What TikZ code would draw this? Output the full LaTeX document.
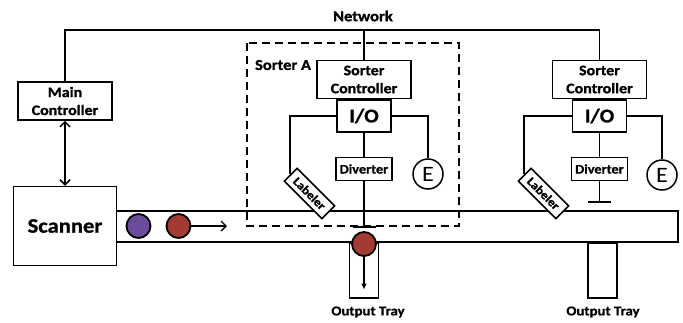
\documentclass[tikz,border=0pt]{standalone}
\usepackage{fontspec}
\setmainfont{Carlito}[FakeStretch=1.1, BoldFeatures={FakeBold=1}]
\usetikzlibrary{positioning, arrows.meta, calc}
\definecolor{ballpurple}{RGB}{107,76,154}
\definecolor{ballred}{RGB}{164,58,52}

\begin{document}
\begin{tikzpicture}[
    x=1pt, y=-1pt,
    line width=1.5pt,
    box/.style={draw, rectangle, inner sep=0pt, align=center, font=\bfseries\fontsize{14.5}{18}\selectfont},
    ctl/.style={box, minimum width=94pt, minimum height=38pt},
    iob/.style={box, minimum width=54pt, minimum height=32pt, font=\bfseries\fontsize{19.5}{22}\selectfont},
    dvt/.style={box, minimum width=56pt, minimum height=23pt, font=\bfseries\fontsize{13}{15}\selectfont},
    lab/.style={box, fill=white, rotate=-45, minimum width=53pt, minimum height=18pt, font=\bfseries\fontsize{12}{14}\selectfont},
    enc/.style={draw, circle, minimum size=30pt, inner sep=0pt, font=\fontsize{22}{24}\selectfont},
    tray/.style={draw, rectangle, minimum width=29pt, minimum height=55pt, anchor=north},
    ball/.style={draw, circle, minimum size=24pt, inner sep=0pt, line width=1.8pt},
    arrow/.style={-{Straight Barb[length=5pt, width=10pt]}, line width=1.3pt},
    dblarrow/.style={{Straight Barb[length=5pt, width=10pt]}-{Straight Barb[length=5pt, width=10pt]}, line width=1.5pt},
    lbl/.style={font=\bfseries\fontsize{15}{17}\selectfont}
]
\useasboundingbox (0,0) rectangle (683,322);

% conveyor
\node[box, minimum width=103pt, minimum height=79pt, font=\bfseries\fontsize{20.5}{24}\selectfont] (scan) at (65,226) {Scanner};
\coordinate (cv_tr) at (678,211);
\coordinate (cv_br) at (678,242);
\draw (scan.east |- cv_tr) -- (cv_tr) -- (cv_br) -- (scan.east |- cv_br);

\node[ctl] (main_c) at (65,101) {Main\\Controller};
\draw[dblarrow] (main_c) -- (scan);

\node[lbl] (net_t) at (363,16) {Network};

% sorter A
\draw[dashed, dash pattern=on 8pt off 5pt, line width=1.8pt] (247,43) rectangle (459,226);
\node[lbl, anchor=north west] (srtA_t) at (251,56) {Sorter A};
\node[ctl] (srtA_c) at (364,79.5) {Sorter\\Controller};
\node[iob, below=0pt of srtA_c] (srtA_io) {I/O};
\node[dvt, below=24pt of srtA_io] (srtA_d) {Diverter};
\node[enc] (srtA_e) at (428,174) {E};
\node[lab] (srtA_l) at (309.5,193.5) {Labeler};
\coordinate (srtA_g) at ($(srtA_d.south |- cv_tr)+(0,16)$);
\draw (srtA_io.west) -| (srtA_l.west);
\draw (srtA_io.east) -| (srtA_e.north);
\draw (srtA_io) -- (srtA_d);
\draw (srtA_d.south) -- (srtA_g);
\draw ([xshift=-11.5pt]srtA_g) -- ([xshift=11.5pt]srtA_g);
\node[tray] (srtA_o) at (srtA_d.south |- cv_br) {};
\node[ball, fill=ballred] (ball_o) at ($(srtA_o.north)+(0,2)$) {};
\coordinate (srtA_a) at ($(srtA_o.south)+(0,-9)$);
\draw[-{Latex[length=6pt, width=6pt]}, line width=1.3pt] (ball_o.south) -- (srtA_a);
\node[lbl, font=\bfseries\fontsize{13.5}{16}\selectfont] (srtA_ot) at (368,312) {Output Tray};

% sorter B
\node[ctl] (srtB_c) at (599.5,79.5) {Sorter\\Controller};
\node[iob, below=0pt of srtB_c] (srtB_io) {I/O};
\node[dvt, below=24pt of srtB_io] (srtB_d) {Diverter};
\node[enc] (srtB_e) at (662,175) {E};
\node[lab] (srtB_l) at (543.5,193.5) {Labeler};
\coordinate (srtB_g) at ($(srtB_d.south |- cv_tr)+(0,-9)$);
\draw (srtB_io.west) -| (srtB_l.west);
\draw (srtB_io.east) -| (srtB_e.north);
\draw (srtB_io) -- (srtB_d);
\draw (srtB_d.south) -- (srtB_g);
\draw ([xshift=-11.5pt]srtB_g) -- ([xshift=11.5pt]srtB_g);
\node[tray] (srtB_o) at (602.5,242) {};
\node[lbl, font=\bfseries\fontsize{13.5}{16}\selectfont] (srtB_ot) at (603,312) {Output Tray};

% network
\coordinate (net) at (srtA_c.north |- 0,30);
\draw (main_c.north) |- (net) -| (srtB_c.north);
\draw (net) -- (srtA_c.north);

% items on the belt
\node[ball, fill=ballpurple] (ball_p) at (138.5,226) {};
\node[ball, fill=ballred] (ball_r) at (178.5,226) {};
\coordinate (ball_a) at (227,226);
\draw[arrow] (ball_r.east) -- (ball_a);
\end{tikzpicture}
\end{document}
